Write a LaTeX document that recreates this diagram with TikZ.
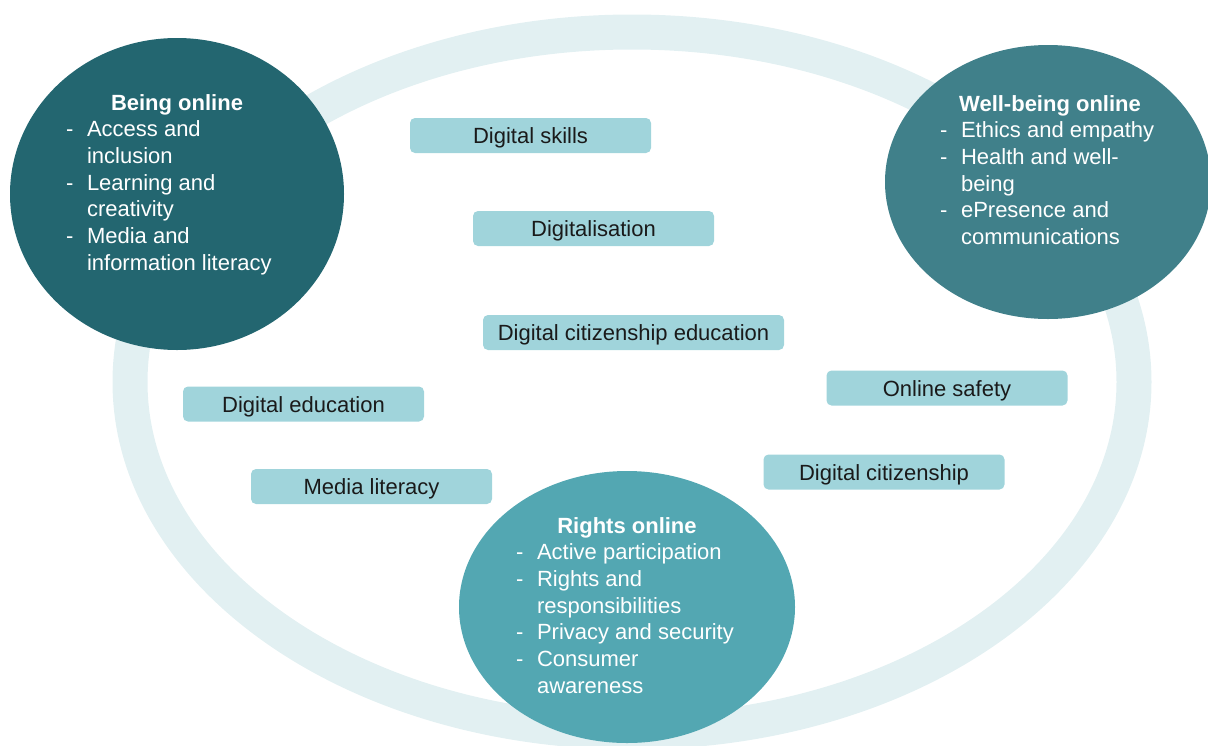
\documentclass[tikz,border=0pt]{standalone}
\usepackage{fontspec}
\setmainfont{Liberation Sans}
\usetikzlibrary{shapes.geometric}
\definecolor{ringteal}{HTML}{E2F0F2}
\definecolor{tagfill}{HTML}{A0D4DB}
\definecolor{tagtext}{HTML}{1A1A1A}
\definecolor{beingcol}{HTML}{236670}
\definecolor{wellcol}{HTML}{40808A}
\definecolor{rightscol}{HTML}{53A7B2}
\begin{document}
\begin{tikzpicture}[x=1pt,y=-1pt,
  tag/.style={rectangle, rounded corners=5pt, fill=tagfill, minimum width=241pt,
    minimum height=35pt, inner sep=0pt, text height=16pt, text depth=0pt,
    font=\fontsize{22}{26.7}\selectfont, text=tagtext},
  blob/.style={ellipse, inner sep=0pt, draw=none},
  blobtext/.style={anchor=base west, inner sep=0pt, text=white,
    font=\fontsize{22}{26.7}\selectfont},
  blobtitle/.style={anchor=base, inner sep=0pt, text=white,
    font=\fontsize{22}{26.7}\selectfont\bfseries},
]
\useasboundingbox (0,0) rectangle (1208,745);
\clip (0,0) rectangle (1208,745);

% surrounding ring
\draw[ringteal, line width=35pt] (632,382) ellipse [x radius=502pt, y radius=350pt];

% concept tags
\node (skills)   [tag] at (530.5,135.5) {Digital skills};
\node (digi)     [tag] at (593.5,228.5) {Digitalisation};
\node (dce)      [tag, minimum width=301pt] at (633.5,332.5) {Digital citizenship education};
\node (dedu)     [tag] at (303.5,404) {Digital education};
\node (media)    [tag] at (371.5,486.5) {Media literacy};
\node (safety)   [tag] at (947,388) {Online safety};
\node (dcit)     [tag] at (884,472) {Digital citizenship};

% the three domains
\node (being)  [blob, fill=beingcol,  minimum width=334pt, minimum height=312pt] at (177,194) {};
\node (well)   [blob, fill=wellcol,   minimum width=326pt, minimum height=274pt] at (1048,182) {};
\node (rights) [blob, fill=rightscol, minimum width=336pt, minimum height=272pt] at (627,607) {};

\node (beingttl)  [blobtitle] at (177,110) {Being online};
\node (wellttl)   [blobtitle] at (1050,111) {Well-being online};
\node (rightsttl) [blobtitle] at (627,533) {Rights online};

\node (beingtxt) [blobtext] at (66,136.7) {\begin{tabular}[t]{@{}l@{\hspace{13.5pt}}l@{}}
- & Access and\\
  & inclusion\\
- & Learning and\\
  & creativity\\
- & Media and\\
  & information literacy
\end{tabular}};

\node (welltxt) [blobtext] at (940,137.8) {\begin{tabular}[t]{@{}l@{\hspace{13.5pt}}l@{}}
- & Ethics and empathy\\
- & Health and well-\\
  & being\\
- & ePresence and\\
  & communications
\end{tabular}};

\node (rightstxt) [blobtext] at (516,559.7) {\begin{tabular}[t]{@{}l@{\hspace{13.5pt}}l@{}}
- & Active participation\\
- & Rights and\\
  & responsibilities\\
- & Privacy and security\\
- & Consumer\\
  & awareness
\end{tabular}};
\end{tikzpicture}
\end{document}
